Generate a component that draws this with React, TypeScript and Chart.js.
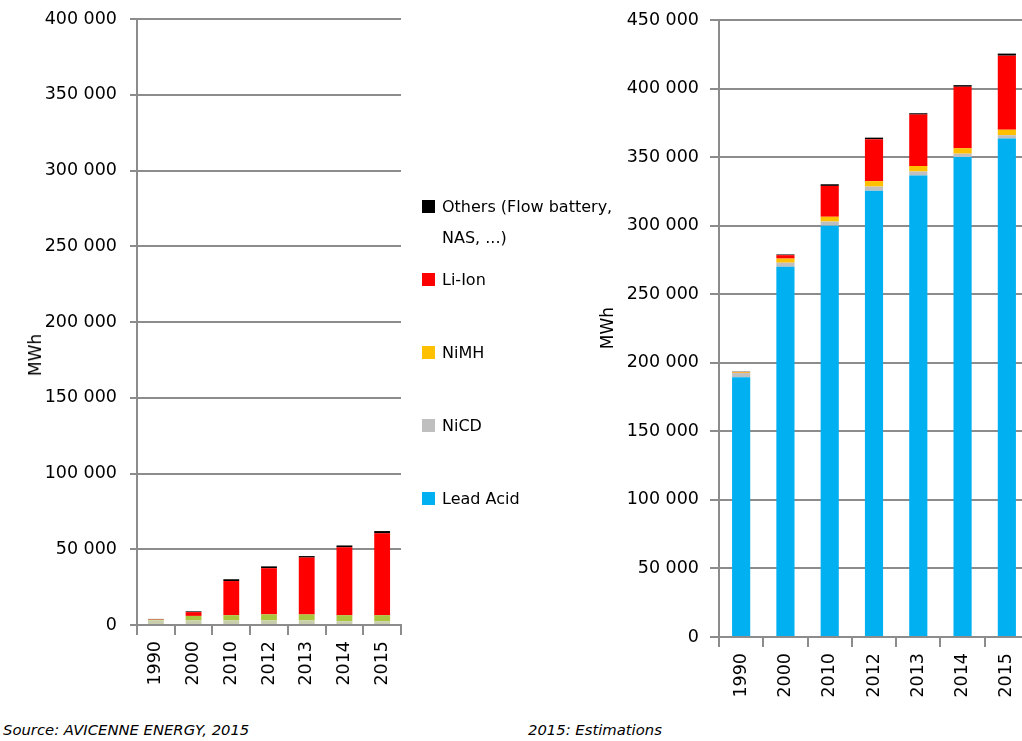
import React, { useEffect, useRef } from "react";
import { Chart, registerables } from "chart.js";

Chart.register(...registerables);

// ---------- data ----------
const categories = ["1990", "2000", "2010", "2012", "2013", "2014", "2015"];
const leadAcid = [189500, 270000, 300000, 325500, 336500, 350000, 363500];
const niCd = [3000, 3000, 3000, 3000, 3000, 2500, 2500];
const niMH = [500, 3000, 3500, 4000, 4000, 4000, 4000];
const liIon = [300, 2500, 22500, 30500, 37500, 44800, 54000];
const others = [200, 500, 1200, 1200, 1000, 1200, 1500];

const seriesNames = ["Lead Acid", "NiCD", "NiMH", "Li-Ion", "Others (Flow battery, NAS, ...)"];
const seriesColors = ["#00B0F0", "#BFBFBF", "#FFC000", "#FF0000", "#000000"];
// the left panel renders the small Ni* segments in a yellow-green tone
const leftSeriesColors = ["#00B0F0", "#C9CFAE", "#A9C63E", "#FF0000", "#000000"];

const leftYMax = 400000;
const rightYMax = 450000;
const yStep = 50000;
const yTitle = "MWh";
const sourceNote = "Source: AVICENNE ENERGY, 2015";
const estimateNote = "2015: Estimations";

// ---------- style ----------
const FONT = "'DejaVu Sans', sans-serif";
const GRID = "#8c8c8c";

const fmt = (v: number | string) =>
  String(v).replace(/\B(?=(\d{3})+(?!\d))/g, " ");

type ChartProps = {
  left: number;
  width: number;
  height: number;
  includeLead: boolean;
  colors: string[];
  yMax: number;
  axisWidth: number;
  axisHeight: number;
  padTop: number;
  padRight: number;
  tickLenY: number;
  tickPadY: number;
  barPct: number;
};

function StackChart(p: ChartProps) {
  const ref = useRef<HTMLCanvasElement>(null);
  useEffect(() => {
    const all = [leadAcid, niCd, niMH, liIon, others];
    const datasets = all
      .map((d, i) => ({
        label: seriesNames[i],
        data: d,
        backgroundColor: p.colors[i],
        borderWidth: 0,
        barPercentage: p.barPct,
        categoryPercentage: 1,
        stack: "s",
      }))
      .filter((_, i) => p.includeLead || i > 0);
    const chart = new Chart(ref.current as HTMLCanvasElement, {
      type: "bar",
      data: { labels: categories, datasets },
      options: {
        responsive: false,
        animation: false,
        layout: { padding: { top: p.padTop, right: p.padRight, left: 0, bottom: 0 } },
        plugins: { legend: { display: false }, tooltip: { enabled: false } },
        scales: {
          x: {
            stacked: true,
            afterFit: (s: any) => {
              s.height = p.axisHeight;
              s.paddingLeft = 0;
              s.paddingRight = 0;
            },
            grid: {
              drawOnChartArea: false,
              drawTicks: true,
              tickLength: 10,
              color: GRID,
              lineWidth: 2,
            },
            border: { color: GRID, width: 2 },
            ticks: {
              minRotation: 90,
              maxRotation: 90,
              padding: 6,
              color: "#000",
              font: { family: FONT, size: 17.5 },
            },
          },
          y: {
            stacked: true,
            min: 0,
            max: p.yMax,
            afterFit: (s: any) => {
              s.width = p.axisWidth;
              s.paddingTop = 0;
              s.paddingBottom = 0;
            },
            ticks: {
              stepSize: yStep,
              padding: p.tickPadY,
              color: "#000",
              font: { family: FONT, size: 17.5 },
              callback: (v: any) => fmt(v),
            },
            grid: { color: GRID, lineWidth: 2, tickLength: p.tickLenY },
            border: { color: GRID, width: 2 },
          },
        },
      },
    } as any);
    return () => chart.destroy();
  }, []);
  return (
    <canvas
      ref={ref}
      width={p.width}
      height={p.height}
      style={{ position: "absolute", left: p.left, top: 0, width: p.width, height: p.height }}
    />
  );
}

const rotLabel = (x: number, y: number, text: string) => (
  <div
    style={{
      position: "absolute",
      left: x,
      top: y,
      transform: "translate(-50%, -50%) rotate(-90deg)",
      fontFamily: FONT,
      fontSize: 17,
      color: "#000",
      whiteSpace: "nowrap",
    }}
  >
    {text}
  </div>
);

const noteStyle = (left: number): React.CSSProperties => ({
  position: "absolute",
  left,
  top: 721,
  fontFamily: FONT,
  fontStyle: "italic",
  fontSize: 14.8,
  color: "#000",
  whiteSpace: "nowrap",
});

export default function App() {
  const legendOrder = [4, 3, 2, 1, 0];
  return (
    <div
      style={{
        position: "absolute",
        left: 0,
        top: 0,
        width: 1022,
        height: 741,
        overflow: "hidden",
        background: "#fff",
      }}
    >
      <StackChart
        left={0}
        width={410}
        height={700}
        includeLead={false}
        colors={leftSeriesColors}
        yMax={leftYMax}
        axisWidth={137}
        axisHeight={75}
        padTop={19}
        padRight={9}
        tickLenY={7}
        tickPadY={13}
        barPct={0.42}
      />
      <StackChart
        left={590}
        width={445}
        height={710}
        includeLead={true}
        colors={seriesColors}
        yMax={rightYMax}
        axisWidth={129}
        axisHeight={73}
        padTop={20}
        padRight={6}
        tickLenY={9}
        tickPadY={11}
        barPct={0.41}
      />
      {rotLabel(35, 355, yTitle)}
      {rotLabel(607, 328, yTitle)}
      {legendOrder.map((si, k) => (
        <div
          key={si}
          style={{ position: "absolute", left: 422, top: 206.7 + k * 73 - 15.5 }}
        >
          <div
            style={{
              position: "absolute",
              left: 0,
              top: 9,
              width: 13,
              height: 13,
              background: seriesColors[si],
            }}
          />
          <div
            style={{
              position: "absolute",
              left: 20,
              top: 0,
              width: 185,
              fontFamily: FONT,
              fontSize: 16,
              lineHeight: "31px",
              color: "#000",
            }}
          >
            {seriesNames[si]}
          </div>
        </div>
      ))}
      <div style={noteStyle(3)}>{sourceNote}</div>
      <div style={noteStyle(528)}>{estimateNote}</div>
    </div>
  );
}
